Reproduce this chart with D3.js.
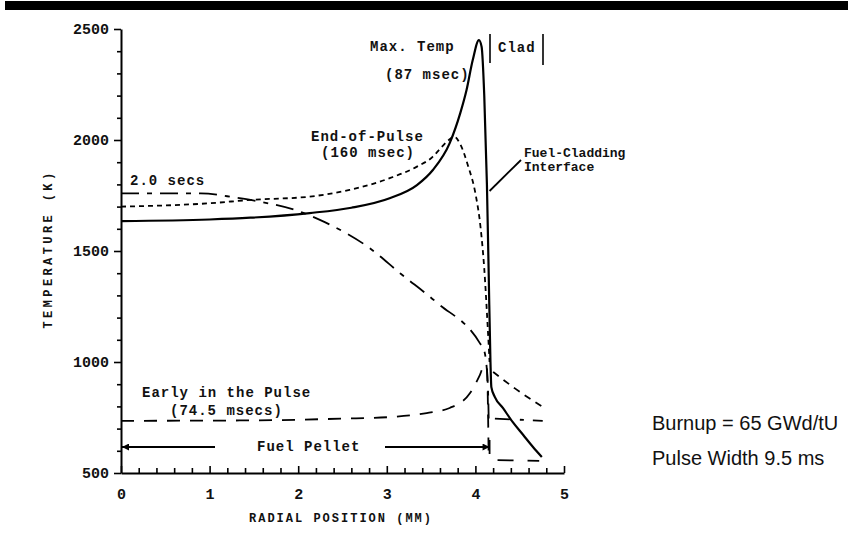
<!DOCTYPE html>
<html>
<head>
<meta charset="utf-8">
<script src="https://cdn.jsdelivr.net/npm/d3@7"></script>
<style>
  html, body { margin: 0; padding: 0; background: #fff; }
  svg { display: block; }
  .mono { font-family: "Liberation Mono", "Courier New", monospace; font-weight: bold; fill: #111; }
  .sans { font-family: "Liberation Sans", Arial, sans-serif; fill: #111; }
</style>
</head>
<body>
<svg id="chart" width="848" height="536"></svg>
<script>
// Radial temperature profiles (radius in mm, temperature in K)
const maxTempR = [0, 1, 1.46, 2.13, 2.6, 3.04, 3.34, 3.52, 3.71, 3.83, 3.9, 3.97, 4.04, 4.07, 4.1, 4.13, 4.15, 4.17, 4.18, 4.22, 4.31, 4.42, 4.54, 4.65, 4.75];
const maxTempT = [1635, 1642, 1650, 1671, 1695, 1739, 1797, 1865, 1986, 2122, 2225, 2360, 2450, 2420, 2200, 1800, 1400, 1000, 887, 842, 793, 730, 671, 617, 572];

const eopR = [0, 1, 1.46, 2.13, 2.58, 3.04, 3.34, 3.52, 3.6, 3.7, 3.76, 3.83, 3.92, 4.0, 4.06, 4.1, 4.14, 4.16];
const eopT = [1700, 1715, 1730, 1745, 1775, 1829, 1880, 1925, 1960, 2000, 2015, 1980, 1880, 1760, 1600, 1420, 1150, 1000];
const eopCladR = [4.2, 4.45, 4.75];
const eopCladT = [955, 880, 800];

const twoSecR = [0, 0.9, 1.3, 1.6, 2.0, 2.3, 2.8, 3.15, 3.57, 4.05, 4.1, 4.14, 4.15];
const twoSecT = [1760, 1760, 1740, 1720, 1680, 1630, 1515, 1400, 1266, 1085, 1050, 900, 745];
const twoSecCladR = [4.22, 4.76];
const twoSecCladT = [745, 735];

const earlyR = [0, 1.5, 2.5, 3.04, 3.45, 3.71, 3.94, 4.05, 4.1, 4.13, 4.15];
const earlyT = [735, 737, 745, 752, 770, 793, 860, 941, 985, 970, 560];
const earlyCladR = [4.25, 4.72];
const earlyCladT = [558, 555];

const yTicks = [500, 1000, 1500, 2000, 2500];
const xTicks = [0, 1, 2, 3, 4, 5];

const svg = d3.select("#chart");

// Heavy rule across the top of the page
svg.append("rect").attr("x", 5).attr("y", 1).attr("width", 843).attr("height", 9).attr("fill", "#000");

const x = d3.scaleLinear().domain([0, 5]).range([121, 564]);
const y = d3.scaleLinear().domain([500, 2500]).range([473, 29]);

// Y axis: outward ticks, minor every 100 K
const yMinor = d3.range(600, 2500, 100).filter(v => v % 500 !== 0);
svg.append("g").attr("transform", `translate(${x(0)},0)`)
  .call(d3.axisLeft(y).tickValues(yMinor).tickSize(4).tickSizeOuter(0).tickFormat(""))
  .call(g => g.select(".domain").remove());
svg.append("g").attr("transform", `translate(${x(0)},0)`)
  .call(d3.axisLeft(y).tickValues(yTicks).tickSize(7).tickSizeOuter(0).tickPadding(5).tickFormat(d3.format("d")))
  .call(g => g.selectAll("text").attr("class", "mono").style("font-size", "15px"));

// X axis: inward ticks, minor every 0.2 mm
const xMinor = d3.range(0.2, 5, 0.2).filter(v => Math.abs(v - Math.round(v)) > 1e-6);
svg.append("g").attr("transform", `translate(0,${y(500)})`)
  .call(d3.axisBottom(x).tickValues(xMinor).tickSize(-5).tickSizeOuter(0).tickFormat(""))
  .call(g => g.select(".domain").remove());
svg.append("g").attr("transform", `translate(0,${y(500)})`)
  .call(d3.axisBottom(x).tickValues(xTicks).tickSize(-7).tickSizeOuter(0).tickPadding(15).tickFormat(d3.format("d")))
  .call(g => g.selectAll("text").attr("class", "mono").style("font-size", "15px"));

svg.selectAll(".domain").attr("stroke", "#000").attr("stroke-width", 2);
svg.selectAll(".tick line").attr("stroke", "#000").attr("stroke-width", 1.6);

const line = d3.line().x(d => x(d[0])).y(d => y(d[1])).curve(d3.curveMonotoneX);
const zip = (r, t) => r.map((v, i) => [v, t[i]]);

function drawSeries(r, t, dash, width) {
  svg.append("path").datum(zip(r, t))
    .attr("d", line)
    .attr("fill", "none")
    .attr("stroke", "#000")
    .attr("stroke-width", width)
    .attr("stroke-dasharray", dash);
}

drawSeries(twoSecR, twoSecT, "18,8,5,8", 1.8);
drawSeries(twoSecCladR, twoSecCladT, "16,9,4,9", 1.8);
drawSeries(earlyR, earlyT, "13,10", 1.8);
drawSeries(earlyCladR, earlyCladT, "16,14", 1.8);
drawSeries(eopR, eopT, "5,4", 1.8);
drawSeries(eopCladR, eopCladT, "7,6", 1.8);
drawSeries(maxTempR, maxTempT, null, 2.2);

// Annotations
function label(txt, px, py, cls, size, spacing) {
  svg.append("text").attr("x", px).attr("y", py).attr("class", cls)
    .style("font-size", size + "px").style("letter-spacing", (spacing || 0) + "px").text(txt);
}
label("Max. Temp", 370, 51, "mono", 14, 1);
label("(87 msec)", 385, 79, "mono", 14, 1);
label("Clad", 498, 52, "mono", 14, 1);
label("End-of-Pulse", 311, 141, "mono", 14, 1);
label("(160 msec)", 321, 157, "mono", 14, 1);
label("Fuel-Cladding", 524, 157, "mono", 13, 0);
label("Interface", 524, 171, "mono", 13, 0);
label("2.0 secs", 130, 185, "mono", 14, 1);
label("Early in the Pulse", 142, 397, "mono", 14, 1);
label("(74.5 msecs)", 170, 415, "mono", 14, 1);
label("Fuel Pellet", 257, 451, "mono", 14, 1);

// Clad markers and interface pointer
svg.append("line").attr("x1", 490).attr("x2", 490).attr("y1", 34).attr("y2", 63).attr("stroke", "#000").attr("stroke-width", 1.6);
svg.append("line").attr("x1", 543).attr("x2", 543).attr("y1", 34).attr("y2", 65).attr("stroke", "#000").attr("stroke-width", 1.6);
svg.append("line").attr("x1", 521).attr("y1", 160).attr("x2", x(4.16)).attr("y2", 191).attr("stroke", "#000").attr("stroke-width", 1.8);

// Fuel pellet extent arrows
const arrowY = 447;
svg.append("defs").append("marker").attr("id", "arrow")
  .attr("viewBox", "0 0 10 10").attr("refX", 10).attr("refY", 5)
  .attr("markerWidth", 10).attr("markerHeight", 7).attr("markerUnits", "userSpaceOnUse")
  .attr("orient", "auto-start-reverse")
  .append("path").attr("d", "M0,0L10,5L0,10z").attr("fill", "#000");
svg.append("line").attr("x1", 215).attr("x2", x(0) + 1).attr("y1", arrowY).attr("y2", arrowY)
  .attr("stroke", "#000").attr("stroke-width", 2).attr("marker-end", "url(#arrow)");
svg.append("line").attr("x1", 385).attr("x2", x(4.16)).attr("y1", arrowY).attr("y2", arrowY)
  .attr("stroke", "#000").attr("stroke-width", 2).attr("marker-end", "url(#arrow)");
svg.append("line").attr("x1", x(4.16)).attr("x2", x(4.16)).attr("y1", arrowY - 7).attr("y2", arrowY + 7)
  .attr("stroke", "#000").attr("stroke-width", 1.8);

// Axis titles
svg.append("text").attr("class", "mono").attr("text-anchor", "middle")
  .attr("transform", `translate(52,${y(1500) - 2}) rotate(-90)`)
  .style("font-size", "12px").style("letter-spacing", "3.4px").text("TEMPERATURE (K)");
svg.append("text").attr("class", "mono").attr("text-anchor", "middle")
  .attr("x", 341).attr("y", 522)
  .style("font-size", "12px").style("letter-spacing", "2px").text("RADIAL POSITION (MM)");

// Case description
label("Burnup = 65 GWd/tU", 652, 430, "sans", 20, 0);
label("Pulse Width 9.5 ms", 652, 465, "sans", 20, 0);
</script>
</body>
</html>
